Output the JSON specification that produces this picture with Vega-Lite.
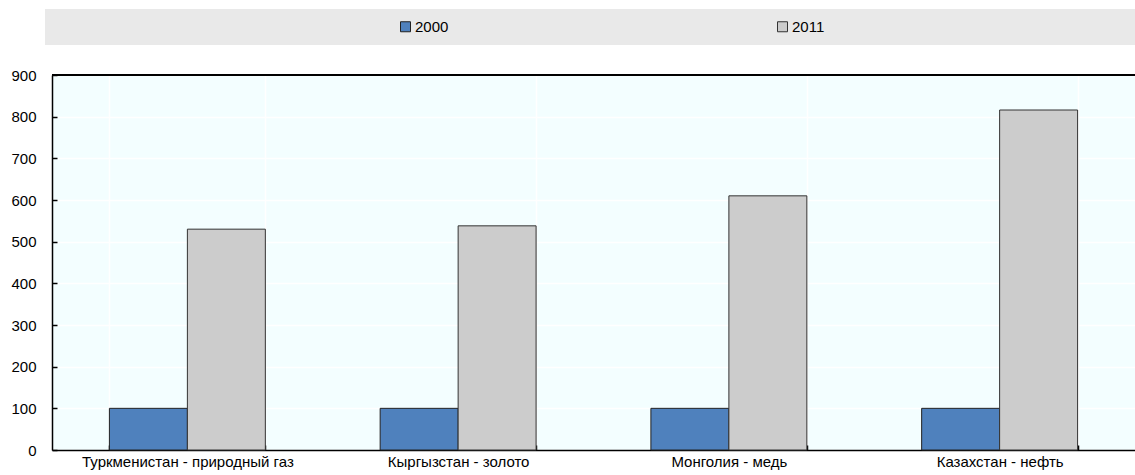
{
  "$schema": "https://vega.github.io/schema/vega-lite/v6.json",
  "width": 1083,
  "height": 375,
  "autosize": "none",
  "padding": {"left": 52, "top": 75, "right": 0, "bottom": 25},
  "background": "#ffffff",
  "config": {
    "font": "Liberation Sans",
    "view": {"fill": "#f3feff", "stroke": null},
    "axis": {"labelFont": "Liberation Sans", "labelFontSize": 15, "labelColor": "#000000"}
  },
  "data": {
    "values": [
      {"category": "Туркменистан - природный газ", "year": "2000", "value": 100},
      {"category": "Туркменистан - природный газ", "year": "2011", "value": 530},
      {"category": "Кыргызстан - золото", "year": "2000", "value": 100},
      {"category": "Кыргызстан - золото", "year": "2011", "value": 538},
      {"category": "Монголия - медь", "year": "2000", "value": 100},
      {"category": "Монголия - медь", "year": "2011", "value": 610},
      {"category": "Казахстан - нефть", "year": "2000", "value": 100},
      {"category": "Казахстан - нефть", "year": "2011", "value": 816}
    ]
  },
  "layer": [
    {
      "mark": {"type": "bar", "strokeWidth": 1},
      "encoding": {
        "x": {
          "field": "category",
          "type": "nominal",
          "sort": null,
          "scale": {"paddingInner": 0.424, "paddingOuter": 0.212},
          "axis": {
            "title": null,
            "labelAngle": 0,
            "labelLimit": 400,
            "tickBand": "extent",
            "grid": true,
            "gridColor": "#ffffff",
            "gridWidth": 1.5,
            "domainColor": "#000000",
            "domainWidth": 1.5,
            "tickColor": "#000000",
            "tickSize": -5,
            "tickWidth": 1.5,
            "labelPadding": 9
          }
        },
        "xOffset": {"field": "year", "sort": ["2000", "2011"]},
        "y": {
          "field": "value",
          "type": "quantitative",
          "scale": {"domain": [0, 900], "nice": false},
          "axis": {
            "title": null,
            "values": [0, 100, 200, 300, 400, 500, 600, 700, 800, 900],
            "grid": true,
            "gridColor": "#ffffff",
            "gridWidth": 1.5,
            "domainColor": "#000000",
            "domainWidth": 1.5,
            "tickColor": "#000000",
            "tickSize": -5,
            "tickWidth": 1.5,
            "labelPadding": 21
          }
        },
        "color": {
          "field": "year",
          "type": "nominal",
          "scale": {"domain": ["2000", "2011", "", " "], "range": ["#4f81bd", "#cccccc", "transparent", "transparent"]},
          "legend": {
            "orient": "none",
            "legendX": -7,
            "legendY": -66,
            "direction": "horizontal",
            "columns": 4,
            "columnPadding": 326,
            "values": ["", "2000", "2011", " "],
            "title": null,
            "fillColor": "#e9e9e9",
            "padding": 10,
            "symbolType": "square",
            "symbolSize": 100,
            "symbolStrokeWidth": 1,
            "labelFontSize": 15,
            "labelFont": "Liberation Sans",
            "labelOffset": 2,
            "labelColor": "#000000"
          }
        },
        "stroke": {
          "field": "year",
          "type": "nominal",
          "scale": {"domain": ["2000", "2011", "", " "], "range": ["#222222", "#333333", "transparent", "transparent"]},
          "legend": {
            "orient": "none",
            "legendX": -7,
            "legendY": -66,
            "direction": "horizontal",
            "columns": 4,
            "columnPadding": 326,
            "values": ["", "2000", "2011", " "],
            "title": null,
            "fillColor": "#e9e9e9",
            "padding": 10,
            "symbolType": "square",
            "symbolSize": 100,
            "symbolStrokeWidth": 1,
            "labelFontSize": 15,
            "labelFont": "Liberation Sans",
            "labelOffset": 2,
            "labelColor": "#000000"
          }
        }
      }
    },
    {
      "mark": {"type": "rule", "color": "#000000", "strokeWidth": 1.5},
      "encoding": {"y": {"datum": 900}}
    }
  ]
}
